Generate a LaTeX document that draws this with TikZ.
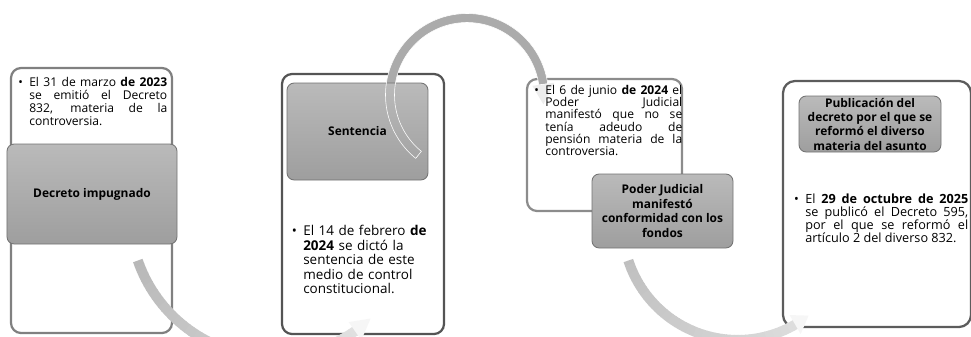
\documentclass[tikz,border=0pt]{standalone}
\usepackage{fontspec}
\setmainfont{Open Sans}

\tikzset{
  card/.style={draw=#1, line width=1.6pt, fill=white, rounded corners=2.5mm, inner sep=0pt},
  card/.default=black!65,
  tab/.style={draw=black!55, line width=0.6pt, rounded corners=1.8mm, top color=black!27, bottom color=black!38,
    font=\fontsize{8.5}{10.2}\selectfont\bfseries, align=center, inner sep=0pt},
  body/.style={anchor=north west, inner sep=0pt, align=justify, font=\fontsize{8.6}{9.3}\selectfont},
  band/.style={line width=2.5mm},
}

\begin{document}
\begin{tikzpicture}[x=0.25mm,y=0.25mm]
\useasboundingbox (0,0) rectangle (971,336);
\clip (0,0) rectangle (971,336);

% outer cards
\node[card=black!50, minimum width=40.25mm, minimum height=66.25mm] (card1) at (91.5,135.5) {};
\node[card=black!67, minimum width=40.5mm, minimum height=65mm] (card2) at (363,132) {};
\node[card=black!45, minimum width=38.75mm, minimum height=33mm] (card3) at (604.5,191) {};
\node[card=black!64, minimum width=47mm, minimum height=61.5mm, rounded corners=3mm] (card4) at (877,132) {};

% arc centres
\coordinate (o1) at (273,122);
\coordinate (o2) at (467,241);
\coordinate (o3) at (737.7,111);

% lower arc, card 1 to card 2
\foreach \i in {0,...,52}
{
    \pgfmathsetmacro{\a}{199+2*\i}
    \pgfmathtruncatemacro{\c}{56-0.6*\i}
    \draw[band, draw=gray!\c, shift={(o1)}] (\a:143) arc[start angle=\a, delta angle=2.3, radius=143];
}
\fill[gray!7, shift={(o1)}] (305:132) -- (305:154) -- (313:143) -- cycle;

% upper arc, card 2 to card 3
\draw[band, line width=2.25mm, draw=gray!66, shift={(o2)}] (231:77) arc[start angle=231, end angle=8, radius=77];
\fill[gray!14, shift={(o2)}] (8:66) -- (8:88) -- (-7:77) -- cycle;

% lower arc, card 3 to card 4
\foreach \i in {0,...,50}
{
    \pgfmathsetmacro{\a}{198+2*\i}
    \pgfmathtruncatemacro{\c}{50-0.45*\i}
    \draw[band, draw=gray!\c, shift={(o3)}] (\a:115) arc[start angle=\a, delta angle=2.3, radius=115];
}
\fill[gray!7, shift={(o3)}] (300:104) -- (300:126) -- (308:115) -- cycle;

% title tabs
\node[tab, minimum width=42.5mm, minimum height=25mm] (tab1) at (92,142) {Decreto impugnado};
\node[tab, minimum width=35.25mm, minimum height=24.25mm] (tab2) at (357.5,204.5) {Sentencia};
\node[tab, minimum width=35.25mm, minimum height=18.5mm, font=\fontsize{8.5}{10.6}\selectfont\bfseries] (tab3) at (662.5,125)
    {Poder Judicial\\manifestó\\conformidad con los\\fondos};
\node[tab, minimum width=35.5mm, minimum height=14mm] (tab4) at (870,212)
    {Publicación del\\decreto por el que se\\reformó el diverso\\materia del asunto};

% white rim of the upper arc over the tab
\draw[white, line width=0.4pt, shift={(o2)}] (231:72.5) arc[start angle=231, end angle=8, radius=72.5]
    -- (8:81.5) arc[start angle=8, end angle=231, radius=81.5] -- cycle;

% texts
\node[body, text width=34.5mm] (txt1) at (29,259)
    {\noindent\llap{\textbullet\hspace{1.6mm}}El 31 de marzo \textbf{de 2023}\linebreak se emitió el Decreto\linebreak 832, materia de la\linebreak controversia.};
\node[body, text width=32mm, align=left, font=\fontsize{9.6}{10.3}\selectfont] (txt2) at (303,111)
    {\llap{\textbullet\hspace{1.6mm}}El 14 de febrero \textbf{de}\\\textbf{2024} se dictó la\\sentencia de este\\medio de control\\constitucional.};
\node[body, text width=34.25mm, font=\fontsize{8.6}{8.7}\selectfont] (txt3) at (545,251)
    {\noindent\llap{\textbullet\hspace{1.6mm}}El 6 de junio \textbf{de 2024} el\linebreak Poder Judicial\linebreak manifestó que no se\linebreak tenía adeudo de\linebreak pensión materia de la\linebreak controversia.};
\node[body, text width=40.75mm, font=\fontsize{9}{9.1}\selectfont] (txt4) at (805,142)
    {\noindent\llap{\textbullet\hspace{1.6mm}}El \textbf{29 de octubre de 2025}\linebreak se publicó el Decreto 595,\linebreak por el que se reformó el\linebreak artículo 2 del diverso 832.};
\end{tikzpicture}
\end{document}
